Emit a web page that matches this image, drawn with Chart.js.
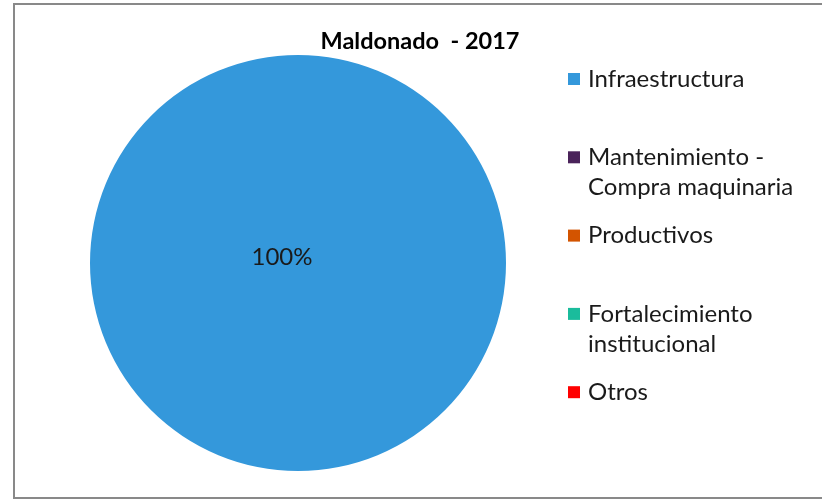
<!DOCTYPE html>
<html>
<head>
<meta charset="utf-8">
<script src="https://cdn.jsdelivr.net/npm/chart.js@4/dist/chart.umd.min.js"></script>
<style>
  html, body { margin: 0; padding: 0; background: #fff; }
  #wrap { width: 822px; height: 500px; }
</style>
</head>
<body>
<div id="wrap"><canvas id="myChart"></canvas></div>
<script>
const chartTitle = 'Maldonado  - 2017';
const categories = ['Infraestructura', 'Mantenimiento - Compra maquinaria', 'Productivos', 'Fortalecimiento institucional', 'Otros'];
const values = [100, 0, 0, 0, 0];
const colors = ['#3498db', '#4a235a', '#d35400', '#1abc9c', '#ff0000'];

const FONT = 'Lato, "Noto Sans", sans-serif';

// frame, title, legend and the percentage label, drawn like the spreadsheet chart
const excelBits = {
  id: 'excelBits',
  beforeDraw(chart) {
    const c = chart.ctx;
    c.save();
    c.fillStyle = '#fff';
    c.fillRect(0, 0, chart.width, chart.height);
    c.fillStyle = '#898989';
    c.fillRect(13, 3, chart.width - 13, 2);
    c.fillRect(13, 3, 2, chart.height - 4);
    c.fillRect(13, chart.height - 3, chart.width - 13, 2);
    c.restore();
  },
  afterDraw(chart) {
    const c = chart.ctx;
    c.save();
    c.textBaseline = 'middle';

    c.fillStyle = '#000';
    c.font = 'bold 23.5px ' + FONT;
    c.textAlign = 'center';
    c.fillText(chartTitle, 420, 41);

    // legend
    c.font = '24px ' + FONT;
    c.textAlign = 'left';
    const maxW = 228;
    let y = 79;
    categories.forEach((lab, i) => {
      c.fillStyle = colors[i];
      c.fillRect(568, y - 6, 12, 12);
      c.fillStyle = '#1a1a1a';
      const words = lab.split(' ');
      let lines = [], cur = '';
      words.forEach(w => {
        const t = cur ? cur + ' ' + w : w;
        if (c.measureText(t).width > maxW && cur) { lines.push(cur); cur = w; } else cur = t;
      });
      lines.push(cur);
      lines.forEach((ln, k) => c.fillText(ln, 588, y + k * 30));
      y += 78.3;
    });

    // data label
    const meta = chart.getDatasetMeta(0);
    const total = values.reduce((a, b) => a + b, 0);
    meta.data.forEach((arc, i) => {
      if (!values[i]) return;
      const pct = Math.round(values[i] / total * 100) + '%';
      c.fillStyle = '#1a1a1a';
      c.font = '24px ' + FONT;
      c.textAlign = 'center';
      if (values[i] === total) {
        c.fillText(pct, arc.x - 16, arc.y - 6);
      } else {
        const p = arc.tooltipPosition();
        c.fillText(pct, p.x, p.y);
      }
    });
    c.restore();
  }
};

new Chart(document.getElementById('myChart'), {
  type: 'pie',
  data: {
    labels: categories,
    datasets: [{
      data: values,
      backgroundColor: colors,
      borderWidth: 0,
      hoverOffset: 0
    }]
  },
  options: {
    responsive: true,
    maintainAspectRatio: false,
    animation: false,
    layout: { padding: { left: 90, right: 316, top: 55, bottom: 29 } },
    plugins: {
      legend: { display: false },
      title: { display: false },
      tooltip: { enabled: false }
    }
  },
  plugins: [excelBits]
});
</script>
</body>
</html>
